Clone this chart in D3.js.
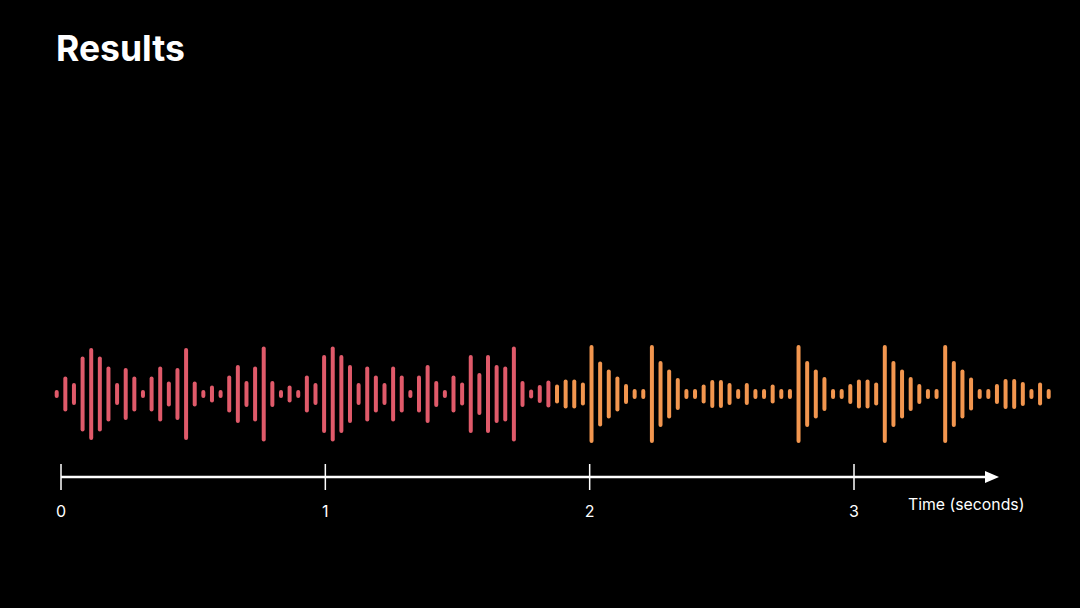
<!DOCTYPE html>
<html>
<head>
<meta charset="utf-8">
<script src="https://cdn.jsdelivr.net/npm/d3@7"></script>
<style>
  html, body { margin: 0; padding: 0; background: #000; }
  svg { display: block; }
</style>
</head>
<body>
<svg id="chart" width="1080" height="608"></svg>
<script>
// Amplitudes (full bar height in px-equivalent units) — first half of recording
const firstHalf = [8, 35, 22, 75, 92, 75, 55, 22, 52, 35, 8, 35, 55, 25, 52, 92, 25, 8, 17, 8,
  37, 58, 26, 55, 95, 26, 8, 17, 8, 37, 22, 78, 95, 78, 58, 22, 55, 37, 22, 55,
  37, 8, 37, 58, 26, 8, 37, 23, 78, 42, 78, 58, 55, 95, 26, 9, 18, 27];
// Second half of recording
const secondHalf = [19, 29, 29, 23, 98, 65, 49, 35, 20, 10, 10, 98, 66, 49, 32, 10, 10, 19, 28, 28,
  22, 10, 22, 10, 10, 19, 10, 10, 98, 66, 49, 34, 10, 10, 20, 29, 29, 23, 98, 66,
  49, 34, 20, 10, 10, 98, 66, 49, 33, 10, 10, 20, 30, 30, 24, 10, 23, 10];
const tickValues = [0, 1, 2, 3];
const tickLabels = ["0", "1", "2", "3"];
const axisTitle = "Time (seconds)";
const chartTitle = "Results";
const seriesColors = ["#E05A6A", "#F2964F"];

const amps = firstHalf.map(v => ({ v, s: 0 })).concat(secondHalf.map(v => ({ v, s: 1 })));

const svg = d3.select("#chart");
svg.append("rect").attr("width", 1080).attr("height", 608).attr("fill", "#000");

// Title
svg.append("text")
  .attr("x", 56).attr("y", 61)
  .attr("fill", "#fff")
  .attr("font-family", "Inter, 'Open Sans', sans-serif")
  .attr("font-weight", 700)
  .attr("font-size", 35.5)
  .text(chartTitle);

// Scales
const xBar = d3.scalePoint().domain(d3.range(amps.length)).range([56.7, 1048.7]);
const yAmp = d3.scaleLinear().domain([0, 100]).range([0, 100]);
const centerY = 394;
const barW = 4;

svg.append("g").selectAll("rect")
  .data(amps)
  .join("rect")
  .attr("x", (d, i) => xBar(i) - barW / 2)
  .attr("y", d => centerY - yAmp(d.v) / 2)
  .attr("width", barW)
  .attr("height", d => yAmp(d.v))
  .attr("rx", 2)
  .attr("fill", d => seriesColors[d.s]);

// Time axis
const xTime = d3.scaleLinear().domain([0, 3]).range([61, 854]);
const axisY = 477;
const axisEnd = 999;

const axisG = svg.append("g");
axisG.append("line")
  .attr("x1", xTime(0)).attr("x2", axisEnd - 10)
  .attr("y1", axisY).attr("y2", axisY)
  .attr("stroke", "#fff").attr("stroke-width", 2.5);
axisG.append("path")
  .attr("d", `M${axisEnd},${axisY} L${axisEnd - 14},${axisY - 6} L${axisEnd - 14},${axisY + 6} Z`)
  .attr("fill", "#fff");

axisG.selectAll("line.tick")
  .data(tickValues)
  .join("line")
  .attr("class", "tick")
  .attr("x1", d => xTime(d)).attr("x2", d => xTime(d))
  .attr("y1", axisY - 13).attr("y2", axisY + 13)
  .attr("stroke", "#fff").attr("stroke-width", 1.5);

axisG.selectAll("text.tl")
  .data(tickValues)
  .join("text")
  .attr("class", "tl")
  .attr("x", d => xTime(d))
  .attr("y", 517)
  .attr("text-anchor", "middle")
  .attr("fill", "#fff")
  .attr("font-family", "Inter, 'Open Sans', sans-serif")
  .attr("font-size", 16)
  .text((d, i) => tickLabels[i]);

axisG.append("text")
  .attr("x", 908).attr("y", 510)
  .attr("fill", "#fff")
  .attr("font-family", "Inter, 'Open Sans', sans-serif")
  .attr("font-size", 15.8)
  .text(axisTitle);
</script>
</body>
</html>
